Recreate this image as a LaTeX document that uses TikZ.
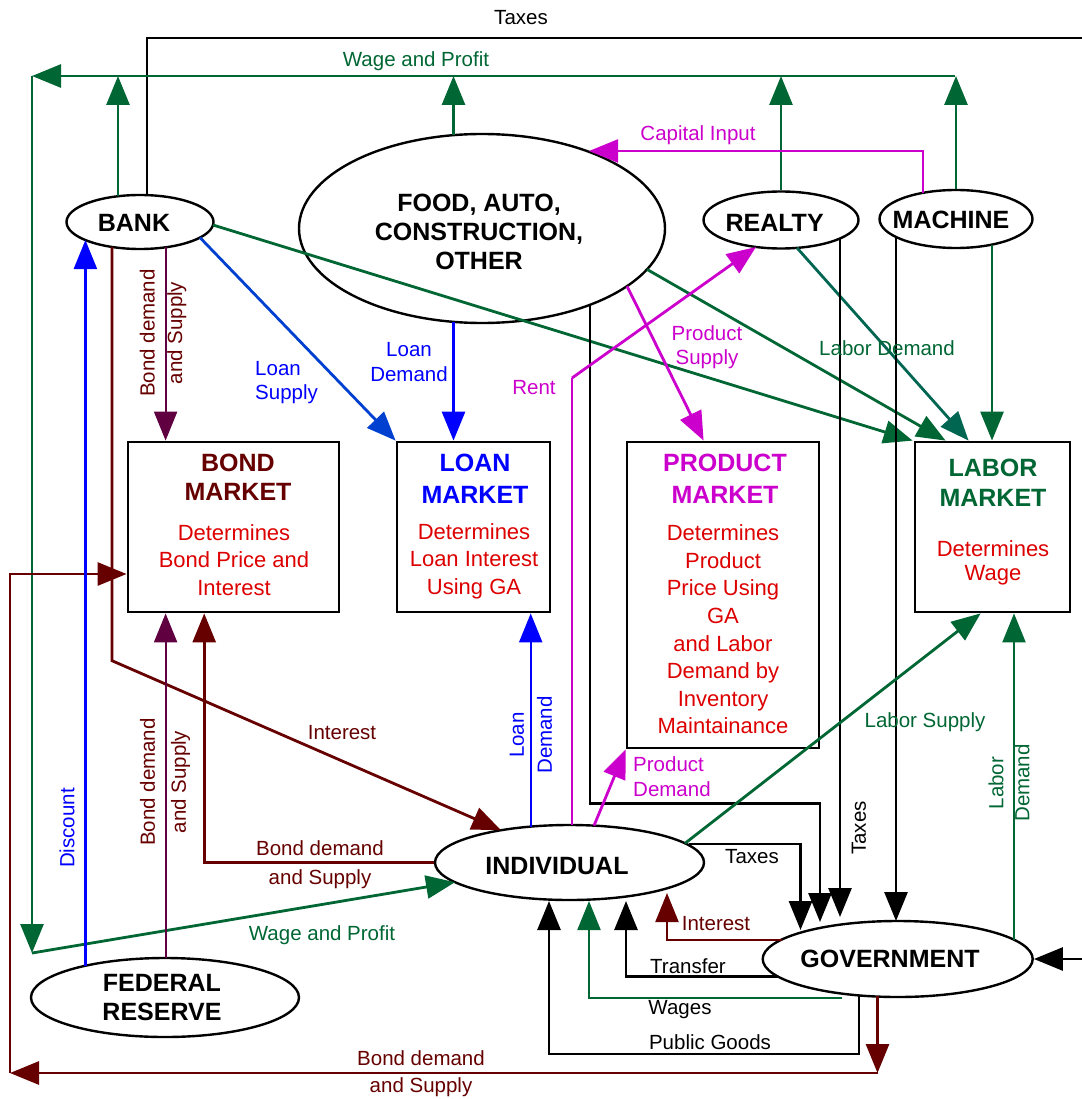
\documentclass[tikz,border=0pt]{standalone}
\usepackage{fontspec}
\setmainfont{Liberation Sans}
\usetikzlibrary{arrows.meta,shapes.geometric,calc}
\definecolor{dkred}{HTML}{660000}
\definecolor{pur}{HTML}{600040}
\definecolor{mag}{HTML}{CC00CC}
\definecolor{grn}{HTML}{006633}
\definecolor{tealg}{HTML}{006652}
\definecolor{blu}{HTML}{0000FF}
\definecolor{blu2}{HTML}{0040D0}
\definecolor{redtxt}{HTML}{DD0000}
\begin{document}
\begin{tikzpicture}[x=1pt,y=-1pt,
  ell/.style={draw,ellipse,line width=2.4pt,inner sep=0pt},
  nt/.style={font=\fontsize{25}{28.5}\selectfont\bfseries,align=center,inner sep=0pt},
  box/.style={draw,line width=2.8pt,inner sep=0pt},
  lab/.style={font=\fontsize{20.5}{25}\selectfont,align=center,inner sep=0pt},
  body/.style={font=\fontsize{22}{27.6}\selectfont,text=redtxt,align=center,inner sep=0pt},
  ttl/.style={font=\fontsize{25}{30}\selectfont\bfseries,align=center,inner sep=0pt},
  con/.style={line width=2.8pt},
  thn/.style={line width=2.2pt},
  arr/.style={-{Triangle[length=29pt,width=23pt]}},
]
\useasboundingbox (0,0) rectangle (1081,1099);

% ---------------- nodes ----------------
\node[ell,minimum width=147pt,minimum height=54pt] (bank) at (140,222) {};
\node[ell,minimum width=366pt,minimum height=189pt] (food) at (482,228.5) {};
\node[ell,minimum width=155pt,minimum height=57pt] (realty) at (781,220) {};
\node[ell,minimum width=153pt,minimum height=58pt] (machine) at (956,219) {};
\node[ell,minimum width=269pt,minimum height=75pt] (indiv) at (569.5,862.5) {};
\node[ell,minimum width=270pt,minimum height=76pt] (gov) at (897.7,959) {};
\node[ell,minimum width=268pt,minimum height=79pt] (fed) at (165,997.5) {};

\node[nt] (bankT) at (134,222.5) {BANK};
\node[nt,font=\fontsize{25}{29}\selectfont\bfseries] (foodT) at (479,231.5) {FOOD, AUTO,\\CONSTRUCTION,\\OTHER};
\node[nt] (realtyT) at (774.6,222.5) {REALTY};
\node[nt] (machineT) at (951,220) {MACHINE};
\node[nt] (indivT) at (557,866) {INDIVIDUAL};
\node[nt] (govT) at (890,959) {GOVERNMENT};
\node[nt] (fedT) at (162,997.5) {FEDERAL\\RESERVE};

\node[box,minimum width=211pt,minimum height=170pt] (bond) at (233.5,527) {};
\node[box,minimum width=153pt,minimum height=170pt] (loan) at (473.5,527) {};
\node[box,minimum width=192pt,minimum height=306pt] (product) at (723,595) {};
\node[box,minimum width=155pt,minimum height=170pt] (labor) at (992.5,527) {};

\node[ttl,text=dkred,font=\fontsize{25}{29}\selectfont\bfseries] (bondT) at (238,477.5) {BOND\\MARKET};
\node[body] (bondB) at (234,560) {Determines\\Bond Price and\\Interest};
\node[ttl,text=blu,font=\fontsize{25}{32}\selectfont\bfseries] (loanT) at (475,479) {LOAN\\MARKET};
\node[body] (loanB) at (474,561) {Determines\\Loan Interest\\Using GA};
\node[ttl,text=mag,font=\fontsize{25}{32}\selectfont\bfseries] (prodT) at (725,479) {PRODUCT\\MARKET};
\node[body] (prodB) at (723,629.5) {Determines\\Product\\Price Using\\GA\\and Labor\\Demand by\\Inventory\\Maintainance};
\node[ttl,text=grn,font=\fontsize{25}{30}\selectfont\bfseries] (labT) at (993,483) {LABOR\\MARKET};
\node[body,font=\fontsize{22}{24}\selectfont] (labB) at (993,563) {Determines\\Wage};

% ---------------- border / routing points ----------------
\coordinate (bkU) at ($(bank)+(-22,-25.8)$);
\coordinate (bkT) at ($(bank)+(7,-27)$);
\coordinate (bkD) at ($(bank)+(-54.6,18)$);
\coordinate (bkI) at ($(bank)+(-28,25)$);
\coordinate (bkB) at ($(bank)+(25.6,25.3)$);
\coordinate (bkL) at ($(bank)+(60,15.6)$);
\coordinate (bkG) at ($(bank)+(73,3)$);
\coordinate (fdU) at ($(food)+(-28.5,-93.3)$);
\coordinate (fdC) at ($(food)+(107,-77.5)$);
\coordinate (fdL) at ($(food)+(-28.5,93.3)$);
\coordinate (fdP) at ($(food)+(145,57.7)$);
\coordinate (fdG) at ($(food)+(165,40.9)$);
\coordinate (fdT) at ($(food)+(108,76.3)$);
\coordinate (rtR) at ($(realty)+(-25,27)$);
\coordinate (rtG) at ($(realty)+(16,27.9)$);
\coordinate (rtT) at ($(realty)+(59,18.5)$);
\coordinate (mcC) at ($(machine)+(-33,-26.2)$);
\coordinate (mcT) at ($(machine)+(-60,18)$);
\coordinate (mcG) at ($(machine)+(36,25.6)$);
\coordinate (inI) at ($(indiv)+(-68.5,-32.3)$);
\coordinate (inL) at ($(indiv)+(-38.8,-35.9)$);
\coordinate (inR) at ($(indiv)+(2.5,-37.5)$);
\coordinate (inP) at ($(indiv)+(24.5,-36.9)$);
\coordinate (inS) at ($(indiv)+(115.5,-19.2)$);
\coordinate (inT) at ($(indiv)+(119,-18.5)$);
\coordinate (inW) at ($(indiv)+(-114.5,19.7)$);
\coordinate (gvI) at ($(gov)+(-116,-19.4)$);
\coordinate (gvT) at ($(gov)+(-119.7,17.6)$);
\coordinate (gvW) at ($(gov)+(-55.7,39)$);
\coordinate (gvP) at ($(gov)+(-38.7,36.4)$);
\coordinate (gvB) at ($(gov)+(-20.2,37.2)$);
\coordinate (gvL) at ($(gov)+(116.3,-19.3)$);
\coordinate (feD) at ($(fed)+(-79.6,-31.8)$);
\coordinate (feB) at ($(fed)+(0.6,-39.5)$);

\coordinate (wpR) at (955,76);
\coordinate (wpL) at (32,76);
\coordinate (wpD) at (32,953);
\coordinate (txTop) at (1083,38);
\coordinate (intK) at (112,660.7);
\coordinate (rentK) at (572,378);
\coordinate (ftK) at (820,803.5);
\coordinate (gtx1) at (800.5,930);
\coordinate (gtx2) at (820,922);
\coordinate (gtx3) at (840,917);
\coordinate (gtx4) at (896,921);
\coordinate (tPG) at (549,901);
\coordinate (tW) at (589,901);
\coordinate (tTr) at (626,901);
\coordinate (tI) at (667,893);
\coordinate (pgK) at (549,1054);
\coordinate (bsK1) at (877.5,1073);
\coordinate (bsK2) at (10,1073);
\coordinate (bsK3) at (10,574);
\coordinate (rightIn) at (1083,959);

% ---------------- connectors ----------------
% taxes from bank, leaving the picture
\draw[con] (bkT) |- (txTop);
% wage and profit chain
\draw[grn,con,arr] (bkU) -- (bkU |- wpR);
\draw[grn,con,arr] (fdU) -- (fdU |- wpR);
\draw[grn,con,arr] (realty.north) -- (realty.north |- wpR);
\draw[grn,con,arr] (machine.north) -- (machine.north |- wpR);
\draw[grn,con,arr] (wpR) -- (wpL);
\draw[grn,con,arr] (wpL) -- (wpD);
\draw[grn,con,arr] (wpD) -- (inW);
% capital input
\draw[mag,thn,arr] (mcC) |- (fdC);
% bank outputs
\draw[pur,thn,arr] (bkB) -- (bkB |- bond.north);
\draw[blu2,con,arr] (bkL) -- (loan.north west);
\draw[grn,con,arr] (bkG) -- ($(labor.north west)+(-1,0)$);
\draw[dkred,con,arr] (bkI) -- (intK) -- (inI);
% food outputs
\draw[blu,con,arr] (fdL) -- (fdL |- loan.north);
\draw[mag,con,arr] (fdP) -- ($(product.north west)+(78,0)$);
\draw[grn,con,arr] (fdG) -- ($(labor.north west)+(32,0)$);
\draw[con,arr] (fdT) |- (ftK) -- (gtx2);
% realty / machine
\draw[tealg,con,arr] (rtG) -- ($(labor.north west)+(55,0)$);
\draw[con,arr] (rtT) -- (rtT |- gtx3);
\draw[grn,con,arr] (mcG) -- (mcG |- labor.north);
\draw[con,arr] (mcT) -- (mcT |- gtx4);
% individual
\draw[mag,thn] (inR) -- (rentK);
\draw[mag,con,arr] (rentK) -- (rtR);
\draw[dkred,con,arr] (indiv.west) -| ($(bond.south west)+(77.6,0)$);
\draw[blu,thn,arr] (inL) -- (inL |- loan.south);
\draw[mag,con,arr] (inP) -- (product.south west);
\draw[grn,con,arr] (inS) -- ($(labor.south west)+(67,0)$);
\draw[con,arr] (inT) -| (gtx1);
% government
\draw[dkred,thn,arr] (gvI) -| (tI);
\draw[con,arr] (gvT) -| (tTr);
\draw[grn,thn,arr] (gvW) -| (tW);
\draw[con,arr] (gvP) |- (pgK) -- (tPG);
\draw[grn,thn,arr] (gvL) -- (gvL |- labor.south);
\draw[con,arr] (rightIn) -- (gov.east);
\draw[dkred,con,arr] (gvB) -- (gvB |- bsK1);
\draw[dkred,con,arr] (bsK1) -- (bsK2);
\draw[dkred,con,arr] (bsK2) -- (bsK3) -- (bsK3 -| bond.west);
% federal reserve
\draw[blu,thn,arr] (feD) -- (bkD);
\draw[pur,thn,arr] (feB) -- (feB |- bond.south);

% ---------------- labels ----------------
\node[lab] (t1) at (521,18) {Taxes};
\node[lab,text=grn] (t2) at (416,61) {Wage and Profit};
\node[lab,text=mag] (t3) at (698,135) {Capital Input};
\node[lab,text=dkred,rotate=90,font=\fontsize{20.5}{27.5}\selectfont] (t4) at (163,333) {Bond demand\\and Supply};
\node[lab,text=blu,align=left,anchor=west,font=\fontsize{20.5}{24}\selectfont] (t5) at (255,383) {Loan\\Supply};
\node[lab,text=blu] (t6) at (409,362) {Loan\\Demand};
\node[lab,text=mag] (t7) at (534,388) {Rent};
\node[lab,text=mag,font=\fontsize{20.5}{24}\selectfont] (t8) at (707,347) {Product\\Supply};
\node[lab,text=grn] (t9) at (887,348) {Labor Demand};
\node[lab,text=dkred] (t10) at (342,733) {Interest};
\node[lab,text=dkred,font=\fontsize{20.5}{29}\selectfont] (t11) at (320,865) {Bond demand\\and Supply};
\node[lab,text=grn] (t12) at (322,935) {Wage and Profit};
\node[lab,text=blu,rotate=90] (t13) at (67,828) {Discount};
\node[lab,text=dkred,rotate=90,font=\fontsize{20.5}{31}\selectfont] (t14) at (165,782) {Bond demand\\and Supply};
\node[lab,text=blu,rotate=90,font=\fontsize{20.5}{28}\selectfont] (t15) at (531,735) {Loan\\Demand};
\node[lab,text=mag,align=left,anchor=west] (t16) at (633,777) {Product\\Demand};
\node[lab,text=grn] (t17) at (925,722) {Labor Supply};
\node[lab,rotate=90] (t18) at (859,828) {Taxes};
\node[lab,text=grn,rotate=90,font=\fontsize{20.5}{26}\selectfont] (t19) at (1009,783) {Labor\\Demand};
\node[lab] (t20) at (752,857) {Taxes};
\node[lab,text=dkred] (t21) at (716,924) {Interest};
\node[lab] (t22) at (688,966) {Transfer};
\node[lab] (t23) at (680,1010) {Wages};
\node[lab] (t24) at (710,1042) {Public Goods};
\node[lab,text=dkred,font=\fontsize{20.5}{27}\selectfont] (t25) at (421,1074) {Bond demand\\and Supply};
\end{tikzpicture}
\end{document}
